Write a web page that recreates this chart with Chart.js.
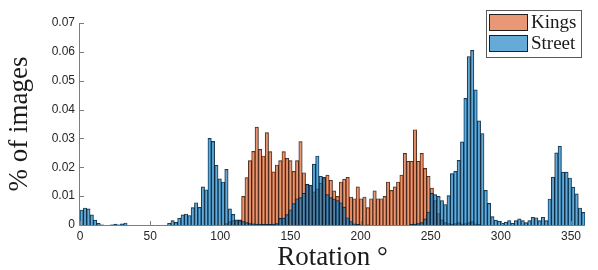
<!DOCTYPE html>
<html lang="en">
<head>
  <meta charset="UTF-8" />
  <title>Rotation histogram</title>
  <script src="https://cdn.jsdelivr.net/npm/chart.js"></script>
  <style>
    html, body {
      margin: 0;
      padding: 0;
      background: #fff;
    }
    .wrap {
      width: 598px;
      height: 270px;
    }
  </style>
</head>
<body>
  <div class="wrap">
    <canvas id="rotChart" width="598" height="270"></canvas>
  </div>

  <script>
    // histogram bins: 150 bins of 2.4 degrees over 0..360
    const binStart = 0;
    const binWidth = 2.4;

    const kings = [
      0, 0, 0, 0, 0, 0, 0, 0, 0, 0,
      0, 0, 0, 0, 0, 0, 0, 0, 0, 0,
      0, 0, 0, 0, 0, 0, 0, 0, 0, 0,
      0, 0, 0, 0, 0, 0, 0, 0, 0, 0,
      0, 0, 0, 0.0005, 0.0012, 0.0015, 0.0015, 0.0018, 0.0099, 0.0164,
      0.0223, 0.0255, 0.0339, 0.0262, 0.0239, 0.0320, 0.0254, 0.0184, 0.0208, 0.0223,
      0.0254, 0.0231, 0.0223, 0.0186, 0.0223, 0.0289, 0.0181, 0.0142, 0.0137, 0.0115,
      0.0125, 0.0145, 0.0161, 0.0173, 0.0155, 0.0118, 0.0099, 0.0149, 0.0159, 0.0165,
      0.0097, 0.0091, 0.0132, 0.0091, 0.0097, 0.0060, 0.0091, 0.0118, 0.0091, 0.0091,
      0.0099, 0.0149, 0.0120, 0.0132, 0.0149, 0.0173, 0.0248, 0.0221, 0.0221, 0.0330,
      0.0221, 0.0248, 0.0196, 0.0169, 0.0128, 0.0085, 0.0040, 0.0018, 0.0008, 0.0005,
      0.0003, 0.0005, 0.0008, 0.0004, 0.0005, 0.0008, 0.0012, 0.0004, 0.0002, 0,
      0, 0, 0, 0, 0, 0, 0, 0, 0, 0,
      0, 0, 0, 0, 0, 0, 0, 0, 0, 0,
      0, 0, 0, 0, 0, 0, 0, 0, 0, 0
    ];

    const street = [
      0.0052, 0.0059, 0.0056, 0.0035, 0.0017, 0.0006, 0.0001, 0, 0, 0.0001,
      0.0003, 0.0001, 0.0004, 0.0007, 0, 0, 0, 0, 0, 0,
      0, 0, 0, 0, 0, 0, 0.0006, 0.0015, 0.0009, 0.0024,
      0.0035, 0.0038, 0.0033, 0.0060, 0.0077, 0.0061, 0.0132, 0.0122, 0.0300, 0.0290,
      0.0207, 0.0160, 0.0149, 0.0193, 0.0056, 0.0037, 0.0018, 0.0015, 0.0012, 0.0008,
      0.0005, 0.0004, 0.0003, 0.0003, 0.0002, 0.0002, 0.0002, 0.0003, 0.0005, 0.0023,
      0.0024, 0.0036, 0.0053, 0.0074, 0.0091, 0.0095, 0.0110, 0.0141, 0.0138, 0.0211,
      0.0239, 0.0169, 0.0165, 0.0105, 0.0095, 0.0090, 0.0085, 0.0077, 0.0062, 0.0025,
      0.0012, 0.0004, 0.0002, 0.0001, 0, 0.0001, 0, 0, 0, 0,
      0, 0, 0, 0, 0, 0, 0, 0, 0.0002, 0.0003,
      0.0005, 0.0008, 0.0021, 0.0045, 0.0110, 0.0105, 0.0099, 0.0085, 0.0071, 0.0102,
      0.0178, 0.0186, 0.0224, 0.0288, 0.0439, 0.0584, 0.0605, 0.0468, 0.0361, 0.0317,
      0.0120, 0.0075, 0.0029, 0.0017, 0.0013, 0.0006, 0.0010, 0.0015, 0.0006, 0.0015,
      0.0021, 0.0015, 0.0008, 0.0015, 0.0027, 0.0025, 0.0015, 0.0027, 0.0015, 0.0090,
      0.0166, 0.0250, 0.0273, 0.0183, 0.0183, 0.0163, 0.0131, 0.0108, 0.0059, 0.0044
    ];

    const xTicks = [0, 50, 100, 150, 200, 250, 300, 350];
    const yTicks = [0, 0.01, 0.02, 0.03, 0.04, 0.05, 0.06, 0.07];
    const seriesNames = ['Kings', 'Street'];

    const kingsFill = 'rgba(217, 83, 25, 0.6)';
    const streetFill = 'rgba(0, 114, 189, 0.6)';
    const edge = 'rgba(0, 0, 0, 0.85)';
    const serif = '"Liberation Serif", "DejaVu Serif", serif';
    const sans = '"Liberation Sans", Arial, sans-serif';

    const binCenters = kings.map((_, i) => binStart + (i + 0.5) * binWidth);
    const toPoints = arr => arr.map((v, i) => ({ x: binCenters[i], y: v }));

    // axis lines, inward ticks, titles and legend in the matlab look
    const matlabAxes = {
      id: 'matlabAxes',
      afterDraw(chart) {
        const { ctx, chartArea: a, scales: { x, y } } = chart;
        ctx.save();
        ctx.strokeStyle = '#7d7d7d';
        ctx.lineWidth = 1;
        ctx.beginPath();
        ctx.moveTo(a.left - 0.5, a.top);
        ctx.lineTo(a.left - 0.5, a.bottom + 0.5);
        ctx.lineTo(a.right, a.bottom + 0.5);
        yTicks.forEach(v => {
          const py = Math.round(y.getPixelForValue(v)) + 0.5;
          ctx.moveTo(a.left, py);
          ctx.lineTo(a.left + 4, py);
        });
        xTicks.forEach(v => {
          const px = Math.round(x.getPixelForValue(v)) + 0.5;
          ctx.moveTo(px, a.bottom);
          ctx.lineTo(px, a.bottom - 4);
        });
        ctx.stroke();

        // axis titles
        ctx.fillStyle = '#1a1a1a';
        ctx.font = '27px ' + serif;
        ctx.textAlign = 'center';
        ctx.textBaseline = 'alphabetic';
        ctx.fillText('Rotation \u00B0', (a.left + a.right) / 2, 265);
        ctx.save();
        ctx.translate(27, (a.top + a.bottom) / 2);
        ctx.rotate(-Math.PI / 2);
        ctx.fillText('% of images', 0, 0);
        ctx.restore();

        // legend box
        ctx.fillStyle = '#fff';
        ctx.fillRect(486.5, 10.5, 95, 47);
        ctx.strokeStyle = '#5a5a5a';
        ctx.strokeRect(486.5, 10.5, 95, 47);
        const fills = [kingsFill, streetFill];
        seriesNames.forEach((name, i) => {
          const top = 14.5 + i * 21;
          ctx.fillStyle = fills[i];
          ctx.fillRect(489.5, top, 38, 16);
          ctx.strokeStyle = edge;
          ctx.strokeRect(489.5, top, 38, 16);
          ctx.fillStyle = '#1a1a1a';
          ctx.font = '19px ' + serif;
          ctx.textAlign = 'left';
          ctx.fillText(name, 531, top + 13.5);
        });
        ctx.restore();
      }
    };

    const ctx = document.getElementById('rotChart').getContext('2d');

    new Chart(ctx, {
      type: 'bar',
      data: {
        datasets: [
          {
            label: seriesNames[0],
            data: toPoints(kings),
            backgroundColor: kingsFill,
            borderColor: edge,
            borderWidth: 0.5,
            grouped: false,
            barPercentage: 1,
            categoryPercentage: 1,
            order: 2
          },
          {
            label: seriesNames[1],
            data: toPoints(street),
            backgroundColor: streetFill,
            borderColor: edge,
            borderWidth: 0.5,
            grouped: false,
            barPercentage: 1,
            categoryPercentage: 1,
            order: 1
          }
        ]
      },
      options: {
        responsive: false,
        animation: false,
        layout: { padding: { top: 23, right: 13, left: 0, bottom: 0 } },
        plugins: {
          legend: { display: false },
          tooltip: { enabled: false }
        },
        scales: {
          x: {
            type: 'linear',
            min: 0,
            max: 360,
            offset: false,
            grid: { display: false, drawTicks: false },
            border: { display: false },
            ticks: {
              padding: 4,
              maxRotation: 0,
              color: '#262626',
              font: { family: sans, size: 12 }
            },
            afterBuildTicks: s => { s.ticks = xTicks.map(v => ({ value: v })); },
            afterFit: s => { s.height = 45; }
          },
          y: {
            min: 0,
            max: 0.07,
            grid: { display: false, drawTicks: false },
            border: { display: false },
            ticks: {
              padding: 5,
              color: '#262626',
              font: { family: sans, size: 12 },
              callback: v => (v === 0 ? '0' : v.toFixed(2))
            },
            afterBuildTicks: s => { s.ticks = yTicks.map(v => ({ value: v })); },
            afterFit: s => { s.width = 80; }
          }
        }
      },
      plugins: [matlabAxes]
    });
  </script>
</body>
</html>
